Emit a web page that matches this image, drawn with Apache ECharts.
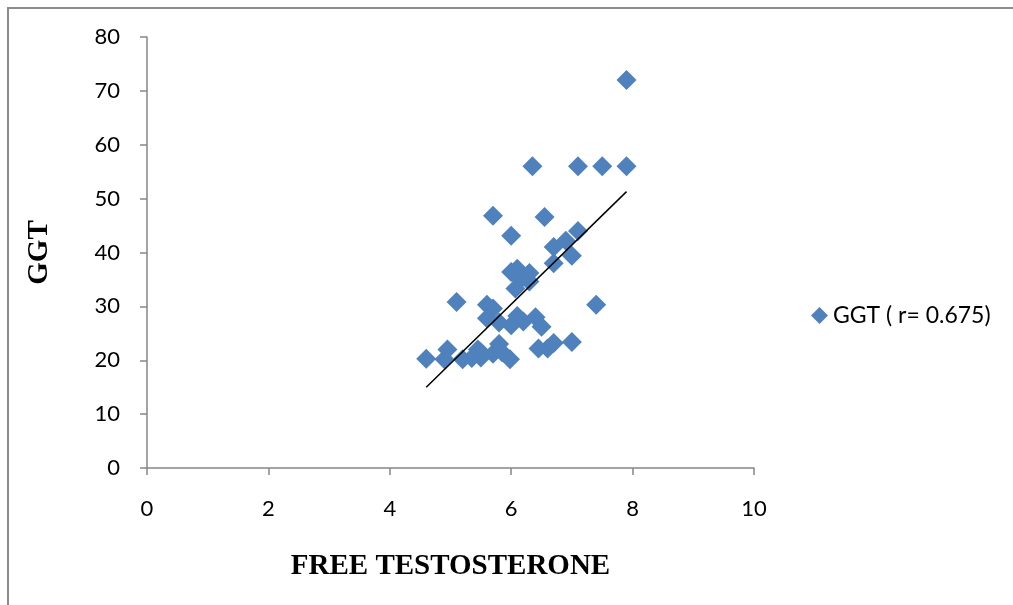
<!DOCTYPE html>
<html>
<head>
<meta charset="utf-8">
<script src="https://cdn.jsdelivr.net/npm/echarts@6/dist/echarts.min.js"></script>
<style>
  html, body { margin: 0; padding: 0; background: #fff; }
  #chart { width: 1013px; height: 605px; }
</style>
</head>
<body>
<div id="chart"></div>
<script>
// free testosterone (x) vs GGT (y)
const freeT = [7.9, 6.35, 7.1, 7.5, 7.9, 5.7, 6.55, 6.0, 7.1, 6.9, 6.7, 7.0, 6.7,
  6.0, 6.1, 6.3, 6.15, 6.3, 6.07, 5.1, 5.6, 5.7, 7.4,
  5.6, 5.8, 6.0, 6.1, 6.4, 6.5, 6.2,
  4.6, 4.95, 4.9, 5.2, 5.45, 5.35, 5.5, 5.8, 5.7, 5.85, 5.98, 6.45, 6.6, 6.7, 7.0, 5.5];
const ggt = [72, 56, 56, 56, 56, 46.8, 46.6, 43.1, 44.0, 42.2, 41.0, 39.4, 38.0,
  36.4, 37.0, 36.2, 35.0, 34.6, 33.3, 30.8, 30.3, 29.6, 30.3,
  27.8, 27.0, 26.5, 28.2, 28.0, 26.2, 27.2,
  20.3, 22.0, 20.2, 20.2, 22.0, 20.4, 20.5, 23.0, 21.2, 21.5, 20.2, 22.2, 22.2, 23.2, 23.4, 21.5];
// linear trend line end points
const trendX = [4.6, 7.9];
const trendY = [15.0, 51.3];
const seriesName = 'GGT ( r= 0.675)';

const blue = '#4F81BD';
const axisGrey = '#868686';

let points = freeT.map((x, i) => [x, ggt[i]]);
let trend = trendX.map((x, i) => [x, trendY[i]]);

var myChart = echarts.init(document.getElementById('chart'));
let option = {
  animation: false,
  backgroundColor: '#fff',
  textStyle: { fontFamily: 'Lato' },
  graphic: [{
    type: 'rect',
    shape: { x: 8, y: 8, width: 1030, height: 620 },
    style: { fill: 'none', stroke: '#8c8c8c', lineWidth: 2 },
    silent: true
  }],
  grid: { left: 147, top: 37, right: 259, bottom: 137 },
  legend: {
    data: [seriesName],
    left: 806, top: 299,
    icon: 'diamond',
    itemWidth: 17, itemHeight: 17, itemGap: 5,
    textStyle: { fontSize: 23, color: '#000', fontFamily: 'Lato' }
  },
  xAxis: {
    type: 'value', min: 0, max: 10, interval: 2,
    name: 'FREE TESTOSTERONE', nameLocation: 'middle', nameGap: 84,
    nameTextStyle: { fontFamily: 'Liberation Serif', fontWeight: 'bold', fontSize: 29, color: '#000' },
    axisLine: { show: true, onZero: false, lineStyle: { color: axisGrey, width: 1.5 } },
    axisTick: { show: true, length: 7, lineStyle: { color: axisGrey, width: 1.5 } },
    axisLabel: { fontSize: 22, color: '#000', margin: 30 },
    splitLine: { show: false }
  },
  yAxis: {
    type: 'value', min: 0, max: 80, interval: 10,
    name: 'GGT', nameLocation: 'middle', nameGap: 93, nameRotate: 90,
    nameTextStyle: { fontFamily: 'Liberation Serif', fontWeight: 'bold', fontSize: 29, color: '#000' },
    axisLine: { show: true, onZero: false, lineStyle: { color: axisGrey, width: 1.5 } },
    axisTick: { show: true, length: 7, lineStyle: { color: axisGrey, width: 1.5 } },
    axisLabel: { fontSize: 22, color: '#000', margin: 27 },
    splitLine: { show: false }
  },
  series: [
    {
      name: seriesName,
      type: 'scatter',
      symbol: 'diamond',
      symbolSize: 20,
      itemStyle: { color: blue, opacity: 1 },
      data: points,
      z: 2
    },
    {
      name: 'trend',
      type: 'line',
      data: trend,
      symbol: 'none',
      lineStyle: { color: '#000', width: 1.5 },
      z: 3
    }
  ]
};
option && myChart.setOption(option);
</script>
</body>
</html>
